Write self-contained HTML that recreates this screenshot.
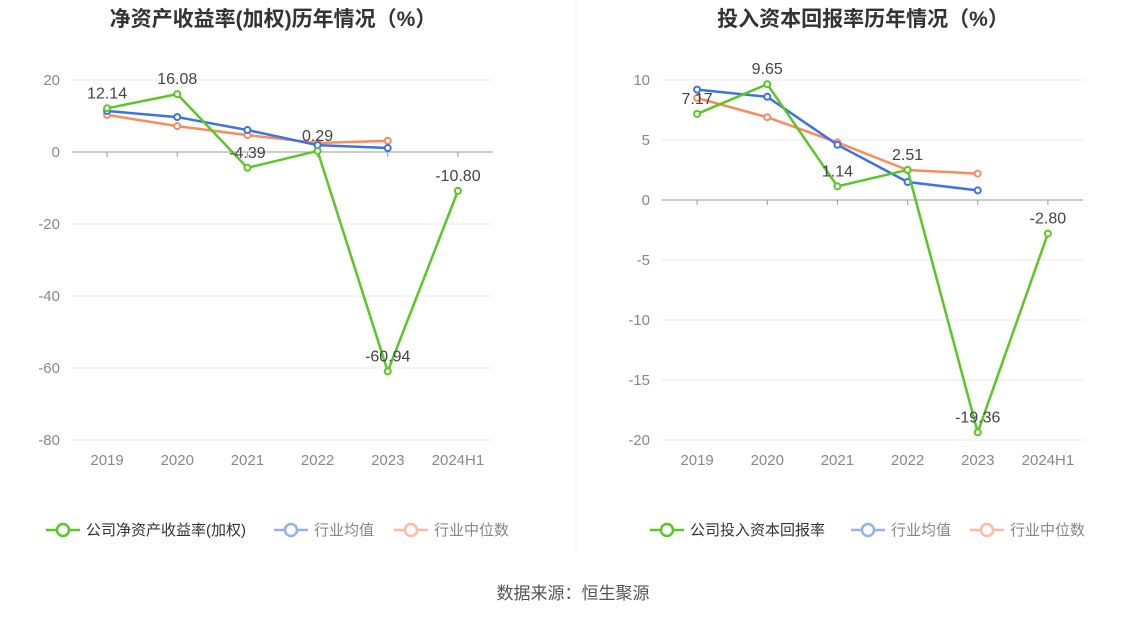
<!DOCTYPE html>
<html><head><meta charset="utf-8"><style>
html,body{margin:0;padding:0;background:#fff;width:1147px;height:619px;overflow:hidden}
svg{display:block;font-family:"Liberation Sans","Noto Sans CJK SC",sans-serif}
</style></head><body>
<svg id="s" width="1147" height="619" viewBox="0 0 1147 619">
<line x1="576" y1="0" x2="576" y2="550" stroke="#eef0f4" stroke-width="1"/>
<text x="273" y="26" text-anchor="middle" font-size="21" font-weight="bold" fill="#333">净资产收益率(加权)历年情况（%）</text>
<text x="863" y="26" text-anchor="middle" font-size="21" font-weight="bold" fill="#333">投入资本回报率历年情况（%）</text>
<text x="573" y="599" text-anchor="middle" font-size="17" fill="#555">数据来源：恒生聚源</text>
</svg>
<script>
const categories=["2019","2020","2021","2022","2023","2024H1"];
const roeCompany=[12.14,16.08,-4.39,0.29,-60.94,-10.80];
const roeAvg=[11.4,9.7,6.1,1.9,1.1];
const roeMedian=[10.3,7.2,4.7,2.5,3.1];
const roeTicks=[20,0,-20,-40,-60,-80];
const roicCompany=[7.17,9.65,1.14,2.51,-19.36,-2.80];
const roicAvg=[9.2,8.6,4.6,1.5,0.8];
const roicMedian=[8.5,6.9,4.8,2.5,2.2];
const roicTicks=[10,5,0,-5,-10,-15,-20];
const svg=document.getElementById('s');
const NS='http://www.w3.org/2000/svg';
function mk(tag,attrs,parent){const e=document.createElementNS(NS,tag);for(const k in attrs)e.setAttribute(k,attrs[k]);(parent||svg).appendChild(e);return e;}
function chart(prefix,x0,x1,yTop,yBot,vmax,vmin,ticks,comp,avg,med,legendXs,compName){
  const g=mk('g',{});
  
  
  const y=v=>yTop+(vmax-v)/(vmax-vmin)*(yBot-yTop);
  const bw=(x1-x0)/categories.length;
  const x=i=>x0+bw*(i+0.5);
  ticks.forEach(t=>{
    if(t!==0){const l=mk('line',{x1:x0,x2:x1,y1:y(t),y2:y(t),stroke:'#e6e9f2'},g);
    
    }
    const tx=mk('text',{x:x0-12,y:y(t)+5,'text-anchor':'end','font-size':15,fill:'#888'},g);
    tx.textContent=t;
    
    
  });
  const ax=mk('line',{x1:x0,x2:x1,y1:y(0),y2:y(0),stroke:'#999'},g);
  
  
  categories.forEach((c,i)=>{
    const tk=mk('line',{x1:x(i),x2:x(i),y1:y(0),y2:y(0)+5,stroke:'#999'},g);
    
    
    const t=mk('text',{x:x(i),y:yBot+25,'text-anchor':'middle','font-size':15,fill:'#888'},g);
    t.textContent=c;
    
    
  });
  function series(vals,color,name,labels){
    const pl=mk('polyline',{points:vals.map((v,i)=>x(i)+','+y(v)).join(' '),fill:'none',stroke:color,'stroke-width':2.5},g);
    
    
    vals.forEach((v,i)=>{
      const c=mk('circle',{cx:x(i),cy:y(v),r:3,fill:'#fff',stroke:color,'stroke-width':2},g);
      
      
      if(labels){const t=mk('text',{x:x(i),y:y(v)-10,'text-anchor':'middle','font-size':16,fill:'#444'},g);
      t.textContent=v.toFixed(2);
      
      }
    });
  }
  series(med,'#fb8b5d','industry-median',false);
  series(avg,'#3b73e6','industry-average',false);
  series(comp,'#5ac726','company',true);
  const leg=[[compName,'#5ac726','#333'],['行业均值','#94b2f1','#888'],['行业中位数','#fdbc9f','#888']];
  leg.forEach(([n,col,tc],k)=>{
    const lx=legendXs[k];
    const lg=mk('g',{},g);
    
    
    mk('line',{x1:lx,x2:lx+34,y1:530,y2:530,stroke:col,'stroke-width':2.5},lg);
    mk('circle',{cx:lx+17,cy:530,r:6,fill:'#fff',stroke:col,'stroke-width':2.5},lg);
    const t=mk('text',{x:lx+40,y:535,'font-size':15,fill:tc},lg);t.textContent=n;
  });
}
chart('roe',72,493,80,440,20,-80,roeTicks,roeCompany,roeAvg,roeMedian,[46,274,394],'公司净资产收益率(加权)');
chart('roic',662,1083,80,440,10,-20,roicTicks,roicCompany,roicAvg,roicMedian,[650,851,970],'公司投入资本回报率');
</script>
</body></html>
